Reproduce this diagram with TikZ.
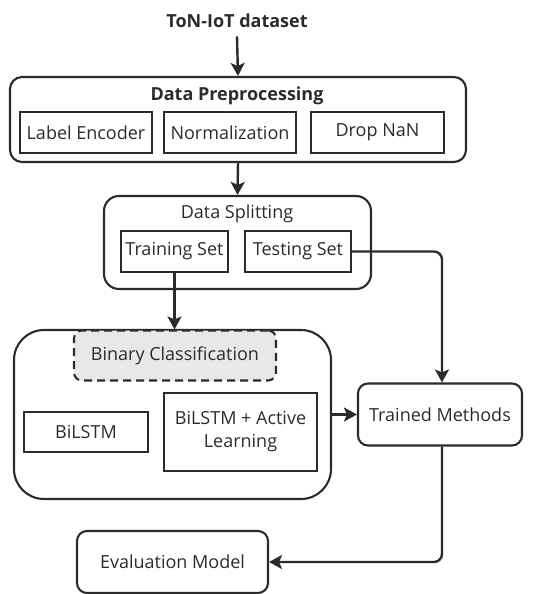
\documentclass[tikz,border=0pt]{standalone}
\usepackage{fontspec}
\setmainfont{Open Sans}
\usetikzlibrary{arrows.meta}
\definecolor{ink}{HTML}{2B2B2B}
\definecolor{shade}{HTML}{E8E8E8}
\tikzset{
  every node/.style = {font=\fontsize{18}{23}\selectfont,text=ink},
  group/.style = {draw=ink,rounded corners=12pt},
  item/.style = {draw=ink,minimum height=41pt,inner sep=2pt},
  stage/.style = {draw=ink,rounded corners=10pt,minimum height=62pt},
  flow/.style = {-{Stealth[length=13pt,width=14pt,inset=3pt]},draw=ink,line width=2.4pt}
}

\begin{document}
\begin{tikzpicture}[x=1pt,y=-1pt,line width=2.1pt]
    \useasboundingbox (0,0) rectangle (555,594);
    \node[font=\fontsize{18}{23}\selectfont\bfseries] (ds) at (237,21) {ToN-IoT dataset};
    % preprocessing
    \node[group,minimum width=456pt,minimum height=85pt] (pre) at (238,119.5) {};
    \node[font=\fontsize{18}{23}\selectfont\bfseries] (pretitle) at (237,96) {Data Preprocessing};
    \node[item,minimum width=132pt] (enc) at (86,132.5) {Label Encoder};
    \node[item,minimum width=132pt] (norm) at (230,132.5) {Normalization};
    \node[item,minimum width=133pt] (drop) at (377.5,132.5) {Drop NaN};
    % splitting
    \node[group,rounded corners=15pt,minimum width=267pt,minimum height=93pt] (split) at (237.5,242.5) {};
    \node (splittitle) at (237,214) {Data Splitting};
    \node[item,minimum width=107pt] (train) at (174.5,251.5) {Training Set};
    \node[item,minimum width=106pt] (test) at (298,251.5) {Testing Set};
    % models
    \node[group,rounded corners=30pt,minimum width=317pt,minimum height=169pt] (model) at (172.5,414.5) {};
    \node[draw=ink,fill=shade,dash pattern=on 8pt off 5pt,rounded corners=8pt,
          minimum width=202pt,minimum height=50pt] (binary) at (175,355.5) {Binary Classification};
    \node[item,minimum width=124pt,minimum height=40pt] (bilstm) at (86,432) {BiLSTM};
    \node[item,minimum width=153pt,minimum height=78pt,align=center] (active) at (240.5,432)
          {BiLSTM + Active\\Learning};
    \node[stage,minimum width=164pt] (trained) at (440,414.5) {Trained Methods};
    \node[stage,minimum width=191pt] (eval) at (172.5,562) {Evaluation Model};
    % connectors
    \draw[flow] (ds.south) ++(0,4) -- (pre.north);
    \draw[flow] (pre.south) -- (split.north);
    \draw[flow] (train.south) -- (train.south |- binary.north);
    \draw[flow,rounded corners=8pt] (test.east) -| ([xshift=2pt]trained.north);
    \draw[flow] (model.east) -- (trained.west);
    \draw[flow,rounded corners=8pt] ([xshift=2pt]trained.south) |- (eval.east);
\end{tikzpicture}
\end{document}
